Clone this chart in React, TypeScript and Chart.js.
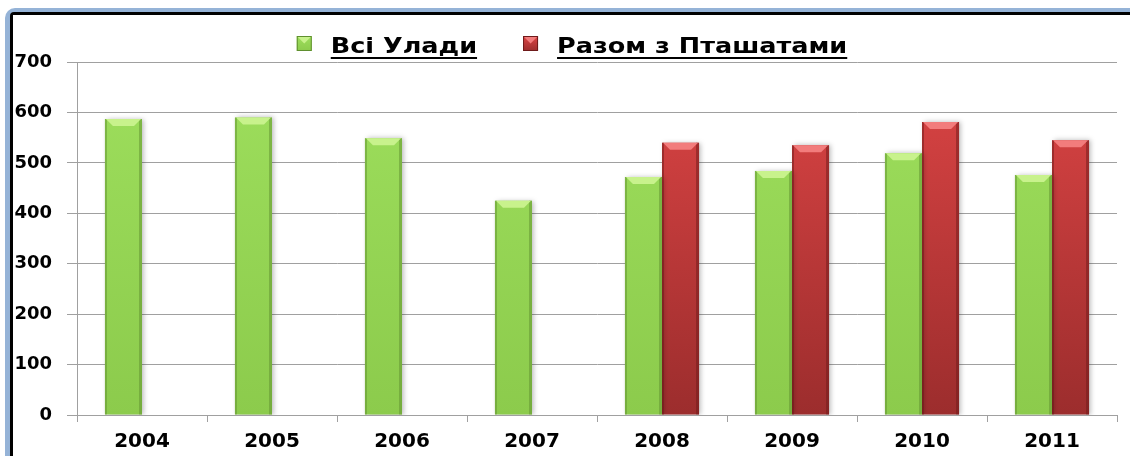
import { useEffect, useRef } from "react";
import { Chart, registerables } from "chart.js";

Chart.register(...registerables);

const categories = ["2004", "2005", "2006", "2007", "2008", "2009", "2010", "2011"];
const seriesNames = ["Всі Улади", "Разом з Пташатами"];
const allValues = [587, 590, 549, 425, 472, 484, 519, 476];
const withChicksValues = [null, null, null, null, 540, 535, 581, 545];
const yTickValues = [0, 100, 200, 300, 400, 500, 600, 700];

const FONT = '"DejaVu Sans", Verdana, sans-serif';

const palette = [
  { top: "#9EDF5D", bottom: "#8CCB4C", light: "#C8F28C", dark: "#5F8F2F" },
  { top: "#DD4545", bottom: "#9C2D2D", light: "#F27C7C", dark: "#6E1A1A" },
];

function gradientFill(index: number) {
  return (context: any) => {
    const chart = context.chart;
    const area = chart.chartArea;
    const p = palette[index];
    if (!area) return p.top;
    const g = chart.ctx.createLinearGradient(0, area.top, 0, area.bottom);
    g.addColorStop(0, p.top);
    g.addColorStop(1, p.bottom);
    return g;
  };
}

function roundedRect(c: CanvasRenderingContext2D, x: number, y: number, w: number, h: number, r: number) {
  c.beginPath();
  c.moveTo(x + r, y);
  c.lineTo(x + w, y);
  c.lineTo(x + w, y + h);
  c.lineTo(x, y + h);
  c.lineTo(x, y + r);
  c.arcTo(x, y, x + r, y, r);
  c.closePath();
}

const framePlugin = {
  id: "frame",
  beforeDraw(chart: any) {
    const c = chart.ctx as CanvasRenderingContext2D;
    const W = chart.width + 20;
    const H = chart.height + 20;
    c.save();
    c.fillStyle = "#95B3D7";
    roundedRect(c, 5, 8, W, H, 10);
    c.fill();
    c.fillStyle = "#000";
    roundedRect(c, 10, 12, W, H, 4);
    c.fill();
    c.fillStyle = "#fff";
    c.fillRect(13, 15, W, H);
    c.restore();
  },
};

const bevelPlugin = {
  id: "bevel",
  beforeDatasetsDraw(chart: any) {
    const c = chart.ctx;
    c.save();
    c.shadowColor = "rgba(0,0,0,0.28)";
    c.shadowBlur = 5;
    c.shadowOffsetX = 2;
    c.shadowOffsetY = 0;
  },
  afterDatasetsDraw(chart: any) {
    const c = chart.ctx;
    c.restore();
    chart.data.datasets.forEach((ds: any, di: number) => {
      const meta = chart.getDatasetMeta(di);
      const p = palette[di];
      meta.data.forEach((el: any, i: number) => {
        if (ds.data[i] == null) return;
        const { x, y, base, width } = el.getProps(["x", "y", "base", "width"], true);
        const l = x - width / 2;
        const r = x + width / 2;
        const t = y;
        const b = base;
        c.save();
        c.globalAlpha = 0.5;
        c.fillStyle = p.dark;
        c.fillRect(l, t, 2, b - t);
        c.fillRect(r - 3, t, 3, b - t);
        c.globalAlpha = 1;
        c.fillStyle = p.light;
        c.beginPath();
        c.moveTo(l + 1, t);
        c.lineTo(r - 1, t);
        c.lineTo(r - 8, t + 7);
        c.lineTo(l + 8, t + 7);
        c.closePath();
        c.fill();
        c.restore();
      });
    });
  },
};

const legendPlugin = {
  id: "underlinedLegend",
  afterDraw(chart: any) {
    const c = chart.ctx;
    const size = 22;
    const sx = 1.16;
    const box = 15;
    const gap = 19;
    const itemGap = 46;
    const baseline = 53;
    c.save();
    c.font = `bold ${size}px ${FONT}`;
    const items = chart.data.datasets.map((ds: any, i: number) => ({
      label: ds.label as string,
      w: c.measureText(ds.label).width * sx,
      i,
    }));
    const total = items.reduce(
      (s: number, it: any, k: number) => s + box + gap + it.w + (k ? itemGap : 0),
      0
    );
    let x = chart.width / 2 + 7 - total / 2;
    for (const it of items) {
      const p = palette[it.i];
      const by = baseline - 17;
      const g = c.createLinearGradient(0, by, 0, by + box);
      g.addColorStop(0, p.top);
      g.addColorStop(1, p.bottom);
      c.fillStyle = g;
      c.fillRect(x, by, box, box);
      c.fillStyle = p.light;
      c.beginPath();
      c.moveTo(x, by);
      c.lineTo(x + box, by);
      c.lineTo(x + box / 2, by + box / 2);
      c.closePath();
      c.fill();
      c.strokeStyle = p.dark;
      c.lineWidth = 1;
      c.strokeRect(x + 0.5, by + 0.5, box - 1, box - 1);
      x += box + gap;
      c.save();
      c.translate(x, baseline);
      c.scale(sx, 1);
      c.fillStyle = "#000";
      c.textBaseline = "alphabetic";
      c.textAlign = "left";
      c.fillText(it.label, 0, 0);
      c.restore();
      c.fillStyle = "#000";
      c.fillRect(x, baseline + 4, it.w, 2);
      x += it.w + itemGap;
    }
    c.restore();
  },
};

export default function App() {
  const ref = useRef<HTMLCanvasElement>(null);

  useEffect(() => {
    const chart = new Chart(ref.current!, {
      type: "bar",
      data: {
        labels: categories,
        datasets: [
          {
            label: seriesNames[0],
            data: allValues,
            backgroundColor: gradientFill(0),
            borderWidth: 0,
            categoryPercentage: 0.57,
            barPercentage: 1,
          },
          {
            label: seriesNames[1],
            data: withChicksValues,
            backgroundColor: gradientFill(1),
            borderWidth: 0,
            categoryPercentage: 0.57,
            barPercentage: 1,
          },
        ],
      },
      options: {
        responsive: false,
        animation: false,
        events: [],
        layout: { padding: { top: 62, right: 13, left: 13, bottom: 0 } },
        plugins: {
          legend: { display: false },
          tooltip: { enabled: false },
        },
        scales: {
          x: {
            offset: true,
            grid: {
              display: true,
              offset: true,
              drawOnChartArea: false,
              drawTicks: true,
              tickLength: 7,
              color: "#A0A0A0",
            },
            border: { display: true, color: "#A0A0A0", width: 1 },
            ticks: {
              font: { family: FONT, size: 20, weight: "bold" },
              color: "#000",
              padding: 8,
            },
            afterFit: (s: any) => {
              s.height = 41;
            },
          },
          y: {
            min: 0,
            max: 700,
            afterBuildTicks: (s: any) => {
              s.ticks = yTickValues.map((v) => ({ value: v }));
            },
            ticks: {
              font: { family: FONT, size: 18, weight: "bold" },
              color: "#000",
              padding: 15,
            },
            grid: { color: "#A0A0A0", tickLength: 10, lineWidth: 1 },
            border: { display: true, color: "#A0A0A0" },
            afterFit: (s: any) => {
              s.width = 64;
            },
          },
        },
      },
      plugins: [framePlugin, bevelPlugin, legendPlugin],
    });
    return () => chart.destroy();
  }, []);

  return (
    <div
      style={{
        position: "fixed",
        left: 0,
        top: 0,
        width: 1130,
        height: 456,
        overflow: "hidden",
        background: "#fff",
      }}
    >
      <canvas
        ref={ref}
        width={1130}
        height={456}
        style={{ position: "absolute", left: 0, top: 0, width: 1130, height: 456 }}
      />
    </div>
  );
}
